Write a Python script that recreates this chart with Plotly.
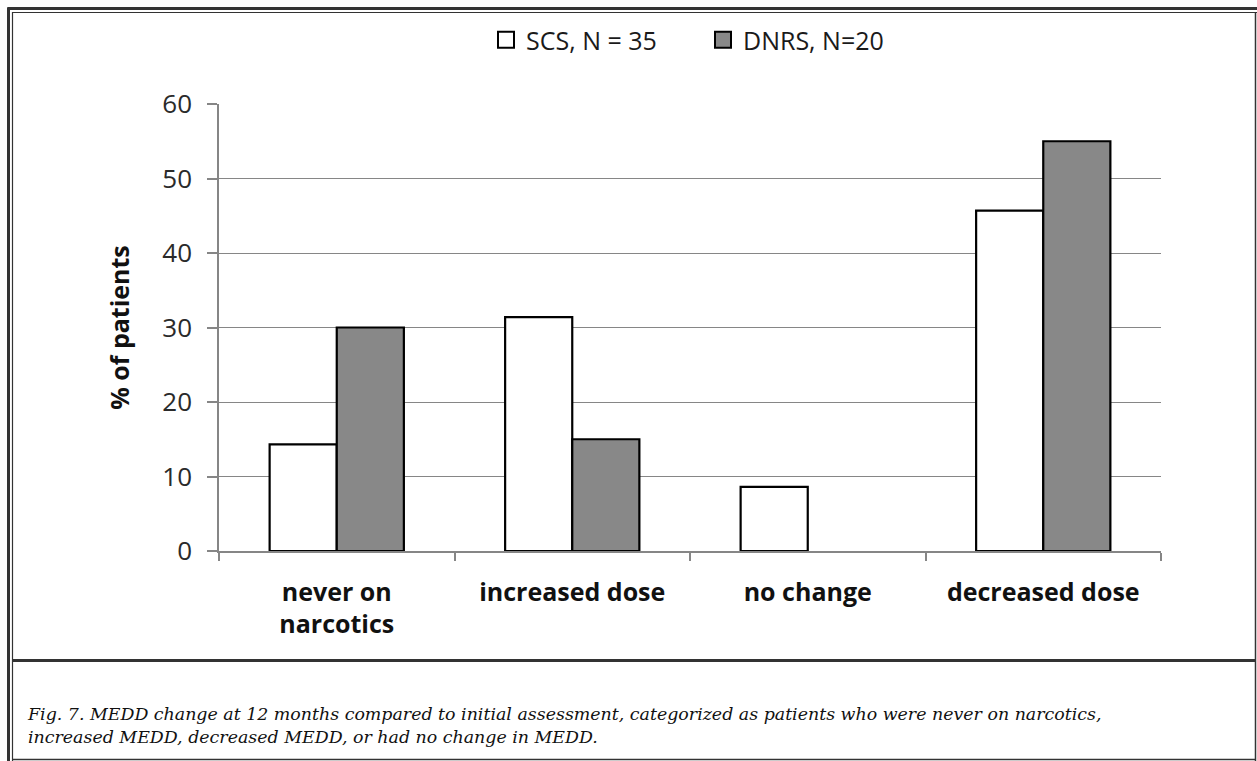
import plotly.graph_objects as go

# Data: percentage of patients by MEDD change category at 12 months
categories = ["never on<br>narcotics", "increased dose", "no change", "decreased dose"]
scs_values = [14.3, 31.4, 8.6, 45.7]     # SCS, N = 35
dnrs_values = [30.0, 15.0, 0.0, 55.0]    # DNRS, N = 20
series_names = ["SCS, N = 35", "DNRS, N=20"]
y_ticks = [0, 10, 20, 30, 40, 50, 60]
caption = ("Fig. 7. MEDD change at 12 months compared to initial assessment, categorized as patients "
           "who were never on narcotics,<br>increased MEDD, decreased MEDD, or had no change in MEDD.")

W, H = 1257, 761
L, R, T, B = 219, 96, 104, 210
PW, PH = W - L - R, H - T - B

def px(x):
    return (x - L) / PW

def py(y):
    return (H - B - y) / PH

CHART_FONT = "Open Sans"
AXIS_GRAY = "#868686"
FRAME = "#333333"
DNRS_FILL = "#888888"

def outline_widths(values, w=2.2):
    # empty bars get no outline so nothing is drawn on the baseline
    return [w if v > 0 else 0 for v in values]

fig = go.Figure()
fig.add_trace(go.Bar(
    x=categories, y=scs_values, name=series_names[0], showlegend=False,
    marker=dict(color="white", line=dict(color="black", width=outline_widths(scs_values))),
))
fig.add_trace(go.Bar(
    x=categories, y=dnrs_values, name=series_names[1], showlegend=False,
    marker=dict(color=DNRS_FILL, line=dict(color="black", width=outline_widths(dnrs_values))),
))
# Legend entries drawn as square markers
for name, col in zip(series_names, ["white", DNRS_FILL]):
    fig.add_trace(go.Scatter(
        x=[None], y=[None], mode="markers", name=name,
        marker=dict(symbol="square", size=16, color=col, line=dict(color="black", width=2)),
    ))

shapes = []

def hline(y, x0, x1, w, color=FRAME):
    shapes.append(dict(type="line", xref="paper", yref="paper",
                       x0=px(x0), x1=px(x1), y0=py(y), y1=py(y),
                       line=dict(color=color, width=w)))

def vline(x, y0, y1, w, color=FRAME):
    shapes.append(dict(type="line", xref="paper", yref="paper",
                       x0=px(x), x1=px(x), y0=py(y0), y1=py(y1),
                       line=dict(color=color, width=w)))

# Double frame around the figure and the caption panel
hline(8.5, 7.5, W, 3)
hline(12.5, 12, W, 1.2)
vline(8.5, 7.5, H, 3)
vline(12.5, 12, H, 1.2)
vline(1255.5, 12, H, 1.5)
hline(759.5, 12, 1256, 1.5)
hline(660.5, 12, 1256, 3)

fig.update_layout(
    width=W, height=H,
    margin=dict(l=L, r=R, t=T, b=B, pad=0),
    paper_bgcolor="white", plot_bgcolor="white",
    barmode="group", bargap=0.43, bargroupgap=0,
    font=dict(family=CHART_FONT, color="#1a1a1a", size=21),
    showlegend=True,
    legend=dict(orientation="h", x=px(486), y=py(40), xanchor="left", yanchor="middle",
                font=dict(family=CHART_FONT, size=25, color="#1a1a1a"),
                itemsizing="trace", itemwidth=30, entrywidth=172, entrywidthmode="pixels",
                tracegroupgap=0, traceorder="normal", bgcolor="rgba(0,0,0,0)"),
    shapes=shapes,
    annotations=[dict(
        text=caption, xref="paper", yref="paper", x=px(25), y=py(702),
        xanchor="left", yanchor="top", align="left", showarrow=False,
        font=dict(family="DejaVu Serif", size=17.4, color="#111111", style="italic"),
    )],
    xaxis=dict(
        showline=True, linecolor=AXIS_GRAY, linewidth=1.5,
        ticks="outside", tickson="boundaries", ticklen=8, tickcolor=AXIS_GRAY, tickwidth=1.5,
        tickfont=dict(family=CHART_FONT, size=25, color="#111111", weight="bold"),
        ticklabelstandoff=18, showgrid=False,
    ),
    yaxis=dict(
        range=[0, 60], tickvals=y_ticks, showline=True, linecolor=AXIS_GRAY, linewidth=1.5,
        ticks="outside", ticklen=10, tickcolor=AXIS_GRAY, tickwidth=1.5,
        showgrid=True, gridcolor=AXIS_GRAY, gridwidth=1.2, zeroline=False,
        tickfont=dict(family=CHART_FONT, size=26, color="#2a2a2a"),
        ticklabelstandoff=10,
        title=dict(text="% of patients", standoff=26,
                   font=dict(family=CHART_FONT, size=25, color="#111111", weight="bold")),
    ),
)

fig.write_html("out.html")
